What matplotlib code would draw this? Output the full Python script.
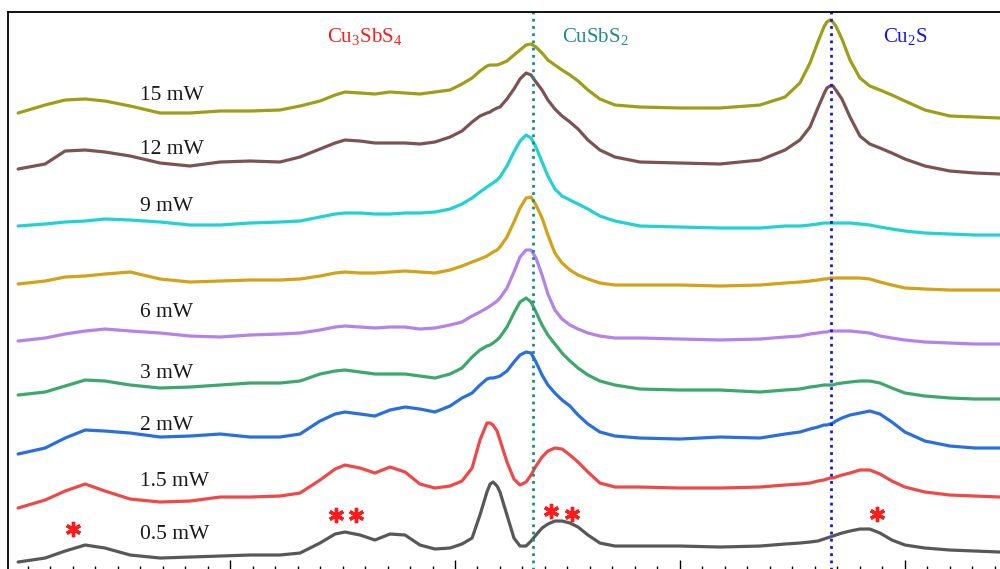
import matplotlib
matplotlib.use("Agg")
import matplotlib.pyplot as plt
from matplotlib.ticker import MultipleLocator

plt.rcParams['font.family'] = ['Liberation Serif', 'DejaVu Serif']
plt.rcParams['mathtext.fontset'] = 'custom'
plt.rcParams['mathtext.rm'] = 'Liberation Serif'

# Raman shift (cm-1)
shift = [105.8, 117.8, 126.7, 135.6, 144.4, 155.6, 168.9, 182.2, 195.6, 208.9,
         222.2, 231.1, 240.0, 246.7, 251.1, 257.8, 264.4, 271.1, 277.8, 284.4,
         291.1, 297.8, 303.1, 307.6, 311.1, 314.2, 315.6, 316.9, 318.7, 320.0,
         323.1, 326.2, 328.9, 331.6, 333.8, 336.0, 338.7, 341.3, 344.4, 347.6,
         351.1, 354.7, 359.1, 364.4, 371.1, 382.2, 400.0, 417.8, 435.6, 446.7,
         453.3, 457.8, 461.3, 464.0, 465.3, 466.7, 468.0, 469.3, 472.0, 475.6,
         480.0, 484.4, 488.9, 494.2, 500.0, 508.9, 520.0, 531.1, 542.2]

# stacked intensities (a.u.)
p05 = [7, 11, 18, 24, 21, 14, 11, 12, 13, 14,
       14, 16, 26, 35, 37, 34, 29, 35, 34, 24,
       20, 21, 25, 31, 54, 77, 85, 87, 83, 77,
       54, 31, 23, 23, 28, 34, 41, 45, 48, 48,
       46, 42, 34, 26, 23, 23, 23, 22, 23, 25,
       26, 27, 28, 30, 31, 32, 33, 34, 36, 38,
       40, 40, 36, 29, 24, 21, 19, 18, 17]
p15 = [61, 69, 78, 85, 78, 70, 67, 68, 72, 72,
       73, 76, 89, 100, 104, 101, 96, 102, 97, 85,
       81, 83, 88, 101, 129, 146, 146, 144, 138, 129,
       107, 90, 84, 87, 94, 103, 112, 118, 121, 120,
       114, 107, 97, 86, 82, 82, 81, 81, 82, 84,
       85, 86, 88, 89, 90, 91, 91, 92, 94, 96,
       99, 99, 95, 88, 82, 77, 74, 73, 72]
p2 = [115, 121, 131, 139, 138, 136, 132, 133, 135, 132,
      132, 135, 148, 155, 157, 155, 153, 159, 162, 160,
      157, 163, 171, 176, 184, 190, 191, 191, 192, 193,
      198, 207, 214, 217, 216, 207, 194, 184, 176, 169,
      163, 154, 145, 137, 133, 131, 130, 132, 131, 135,
      137, 140, 142, 144, 144, 145, 146, 148, 151, 154,
      156, 158, 155, 147, 137, 128, 123, 121, 121]
p3 = [174, 177, 183, 189, 188, 184, 181, 182, 184, 186,
      186, 188, 195, 198, 199, 197, 195, 195, 195, 193,
      191, 195, 201, 212, 219, 223, 224, 226, 229, 232,
      242, 256, 267, 271, 267, 257, 244, 234, 225, 216,
      208, 201, 194, 188, 184, 180, 179, 179, 177, 179,
      180, 182, 183, 184, 184, 184, 184, 185, 186, 187,
      188, 188, 186, 181, 176, 173, 171, 170, 170]
p6 = [228, 231, 235, 238, 240, 238, 236, 233, 232, 234,
      235, 236, 239, 242, 243, 242, 241, 242, 242, 240,
      241, 244, 247, 253, 257, 261, 263, 265, 268, 271,
      281, 297, 312, 319, 319, 311, 294, 275, 259, 250,
      244, 240, 236, 233, 231, 231, 230, 229, 230, 232,
      233, 235, 236, 237, 237, 238, 238, 238, 238, 238,
      237, 236, 233, 231, 229, 227, 226, 225, 225]
p7 = [285, 288, 292, 293, 295, 297, 290, 287, 288, 289,
      289, 290, 293, 296, 297, 296, 296, 297, 298, 297,
      296, 299, 303, 307, 310, 313, 315, 317, 319, 322,
      332, 347, 361, 371, 372, 364, 351, 334, 316, 306,
      299, 294, 290, 286, 284, 284, 284, 283, 284, 286,
      287, 288, 289, 290, 290, 291, 291, 291, 291, 291,
      291, 290, 287, 284, 281, 280, 279, 279, 279]
p9 = [343, 345, 347, 348, 350, 349, 347, 344, 344, 346,
      347, 348, 352, 355, 356, 356, 355, 355, 356, 356,
      357, 360, 365, 371, 377, 382, 384, 386, 389, 392,
      403, 417, 428, 434, 431, 422, 407, 393, 380, 373,
      369, 365, 360, 353, 348, 343, 342, 341, 341, 343,
      343, 344, 345, 346, 346, 346, 346, 346, 346, 346,
      345, 344, 342, 340, 338, 336, 335, 334, 334]
p12 = [400, 405, 418, 419, 417, 413, 406, 403, 407, 408,
       407, 412, 420, 426, 429, 428, 426, 426, 426, 425,
       427, 432, 438, 447, 453, 456, 457, 459, 461, 462,
       470, 480, 490, 496, 494, 487, 479, 469, 460, 453,
       447, 440, 429, 419, 412, 407, 406, 405, 409, 419,
       429, 442, 461, 475, 481, 483, 483, 479, 470, 452,
       433, 425, 421, 416, 410, 403, 398, 396, 395]
p15mw = [456, 464, 469, 470, 468, 463, 456, 456, 458, 458,
         459, 463, 468, 474, 477, 476, 475, 477, 476, 475,
         477, 479, 485, 491, 498, 503, 504, 504, 504, 505,
         508, 514, 519, 524, 525, 522, 516, 509, 504, 499,
         494, 488, 479, 470, 464, 462, 461, 461, 464, 472,
         486, 506, 527, 542, 547, 549, 547, 543, 530, 509,
         491, 483, 479, 474, 468, 459, 453, 452, 451]

spectra = [p05, p15, p2, p3, p6, p7, p9, p12, p15mw]
colors = ['#585858', '#f04848', '#2a6fe0', '#3ca86c', '#b482e8',
          '#d4a216', '#22d2d2', '#7d5252', '#9e9e18']
labels = ['0.5 mW', '1.5 mW', '2 mW', '3 mW', '6 mW', '', '9 mW', '12 mW', '15 mW']
label_y = [35, 88, 144, 196, 257, None, 363, 420, 474]
label_x = 160

phase_lines = [334.7, 467.1]
phase_colors = ['#1b8c8c', '#1414f0']
phase_names = [r'Cu$_{\mathrm{3}}$SbS$_{\mathrm{4}}$', r'CuSbS$_{\mathrm{2}}$', r'Cu$_{\mathrm{2}}$S']
phase_name_x = [260.0, 362.2, 500.0]
phase_name_colors = ['#ff1a1a', '#1b8c8c', '#1414f0']

star_x = [130.2, 247.0, 256.0, 342.7, 352.0, 487.6]
star_y = [40, 54, 54, 58, 55, 55]

fig = plt.figure(figsize=(10, 5.69), dpi=100)
ax = fig.add_axes([0.008, -0.0018, 0.995, 0.9807])

for y, c in zip(spectra, colors):
    ax.plot(shift, y, color=c, lw=2.3, solid_joinstyle='round', solid_capstyle='round')

for xv, c in zip(phase_lines, phase_colors):
    ax.axvline(xv, color=c, lw=2, ls=(0, (1, 1.6)))

for lab, yv in zip(labels, label_y):
    if lab:
        ax.text(label_x, yv, lab, fontsize=15.5, va='center', ha='left', color='#1a1a1a')

for name, xv, c in zip(phase_names, phase_name_x, phase_name_colors):
    ax.text(xv, 532, name, fontsize=15, va='center', ha='center', color=c)

ax.plot(star_x, star_y, ls='none', marker=(6, 2, 0), ms=11, mew=2.4, color='#ff1a1a')

ax.set_xlim(101.3, 543.6)
ax.set_ylim(-1, 557)
ax.xaxis.set_major_locator(MultipleLocator(100))
ax.xaxis.set_minor_locator(MultipleLocator(10))
ax.tick_params(axis='x', which='major', direction='in', length=7, width=1, labelbottom=False)
ax.tick_params(axis='x', which='minor', direction='in', length=3, width=1)
ax.set_yticks([])
for s in ax.spines.values():
    s.set_linewidth(1.3)

fig.savefig('out.png', dpi=100)
